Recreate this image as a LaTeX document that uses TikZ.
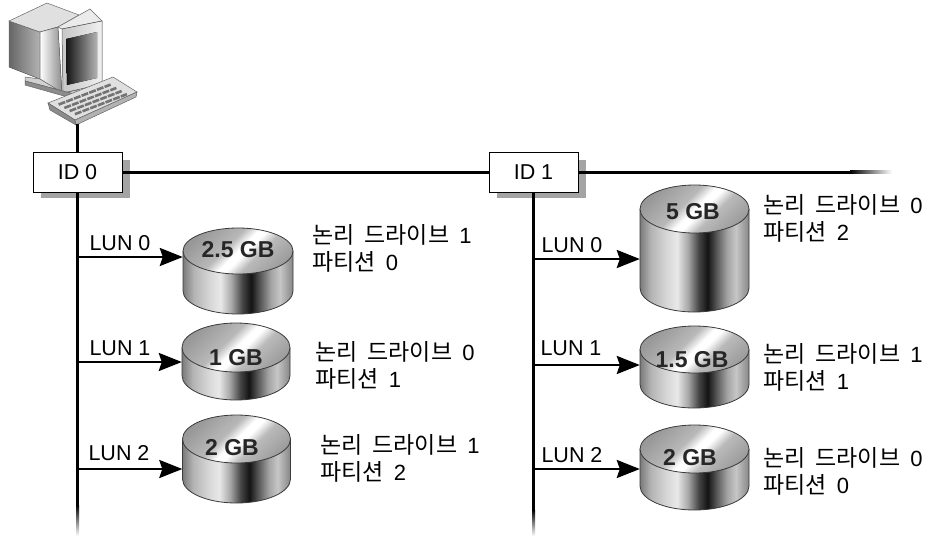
\documentclass[tikz,border=0pt]{standalone}
\usepackage{fontspec}
\setmainfont{Liberation Sans}
\newfontfamily\krfont{Noto Sans CJK KR}
\usetikzlibrary{arrows.meta}

% colours of the disk surfaces
\definecolor{sA}{HTML}{7A7A7A}
\definecolor{sB}{HTML}{B4B4B4}
\definecolor{sC}{HTML}{D6D6D6}
\definecolor{sD}{HTML}{E8E8E8}
\definecolor{sE}{HTML}{A8A8A8}
\definecolor{sF}{HTML}{444444}
\definecolor{sG}{HTML}{141414}
\definecolor{sH}{HTML}{565656}
\definecolor{sI}{HTML}{A4A4A4}
\definecolor{sJ}{HTML}{C6C6C6}
\definecolor{sK}{HTML}{868686}
\definecolor{tA}{HTML}{989898}
\definecolor{tB}{HTML}{B8B8B8}
\definecolor{tC}{HTML}{FFFFFF}
\definecolor{tD}{HTML}{BABABA}
\definecolor{tE}{HTML}{9E9E9E}
\definecolor{diskedge}{HTML}{3A3A3A}
\definecolor{shadowgray}{HTML}{A4A4A4}

\pgfdeclarehorizontalshading{diskside}{100bp}{%
  color(0bp)=(sA); color(25bp)=(sA); color(30bp)=(sB); color(37bp)=(sC);
  color(42bp)=(sD); color(47bp)=(sE); color(52bp)=(sF); color(56bp)=(sG);
  color(60bp)=(sH); color(65bp)=(sI); color(69bp)=(sJ); color(75bp)=(sK);
  color(100bp)=(sK)}
\pgfdeclarehorizontalshading{disktop}{100bp}{%
  color(0bp)=(tA); color(25bp)=(tA); color(43bp)=(tB); color(50bp)=(tC);
  color(54bp)=(tC); color(61bp)=(tD); color(75bp)=(tE); color(100bp)=(tE)}

% #1 name, #2 centre x, #3 centre y of the top face, #4 x radius,
% #5 y radius, #6 height of the side
\newcommand\gbdisk[6]{%
  \path[shading=diskside, draw=diskedge, line width=0.8pt]
    ({#2-#4},#3) -- ({#2-#4},{#3+#6})
    arc[start angle=180, end angle=0, x radius=#4, y radius=#5]
    -- ({#2+#4},#3);
  \path[shading=disktop, shading angle=-45, draw=diskedge, line width=0.8pt]
    (#2,#3) ellipse[x radius=#4, y radius=#5];
  \node[inner sep=0, minimum width={2*#4}, minimum height={#6+2*#5}]
    (#1) at (#2,{#3+#6/2}) {};
}

\begin{document}
\begin{tikzpicture}[x=1pt, y=-1pt,
  bus/.style={line width=3pt, black},
  lunarrow/.style={line width=2.4pt, -{Stealth[length=23pt, width=18pt, inset=3pt]}},
  idbox/.style={draw, line width=1pt, fill=white, minimum width=89pt,
    minimum height=40pt, inner sep=0, font=\fontsize{21.5}{24}\selectfont},
  lun/.style={font=\fontsize{21.5}{24}\selectfont, inner sep=0},
  gb/.style={font=\bfseries\fontsize{23}{26}\selectfont, text=black!85, inner sep=0},
  desc/.style={font=\fontsize{22}{27}\selectfont, align=left, anchor=west, inner sep=0},
  pcline/.style={draw=black!60, line width=0.5pt}]
\useasboundingbox (0,0) rectangle (949,536);

% ---------- workstation ----------
\fill[left color=black!60, right color=black!30, pcline] (9,21) -- (40,32) -- (40,79) -- (9,67) -- cycle;
\fill[black!12, pcline] (9,21) -- (47,3) -- (79,15) -- (58,27) -- (40,32) -- cycle;
\fill[left color=white, right color=black!45, pcline] (40,32) -- (58,27) -- (62,93) -- (40,79) -- cycle;
\fill[black!8, pcline] (58,27) -- (90,9) -- (102,21) -- (62,29) -- cycle;
\fill[left color=black!22, right color=black!6, pcline] (62,29) -- (102,21) -- (102,84) -- (63,93) -- cycle;
\fill[left color=black!92, right color=black!30] (66,39) -- (97,32) -- (97,78) -- (67,85) -- cycle;
\fill[black!18, pcline] (25,77) -- (40,79) -- (63,93) -- (78,90) -- (78,95) -- (25,81) -- cycle;
\fill[black!45, pcline] (25,81) -- (78,95) -- (78,100) -- (25,85) -- cycle;
% keyboard
\fill[black!12, pcline] (48,103) -- (113,77) -- (137,92) -- (75,120) -- cycle;
\fill[black!45, pcline] (48,103) -- (75,120) -- (76,125) -- (50,110) -- cycle;
\fill[black!30, pcline] (75,120) -- (137,92) -- (136,97) -- (76,125) -- cycle;
\foreach \t in {0.12,0.38,0.62,0.86}
  \draw[black!55, line width=2.6pt, dash pattern=on 7pt off 1.2pt]
    ({56+22*\t},{103+13*\t}) -- ({56+22*\t+52},{103+13*\t-20});
\coordinate (kb) at (77.5,124);

% ---------- SCSI chains ----------
\node[idbox] (id0) at (77.5,172) {ID 0};
\node[idbox] (id1) at (533.5,172) {ID 1};
% box shadows, right and lower sides
\fill[shadowgray] (122.5,160) rectangle (130,198);
\fill[shadowgray] (41,192.5) rectangle (130,198);
\fill[shadowgray] (578.5,160) rectangle (586,198);
\fill[shadowgray] (497,192.5) rectangle (586,198);
\draw[line width=2.5pt] (kb) -- (id0.north);
\draw[bus] (id0.east) -- (id1.west);
\coordinate (busfade) at (850,172);
\draw[bus] (id1.east) -- (busfade);
\fill[left color=black, right color=white] (850,170.5) rectangle (892,173.5);

\coordinate (v0fade) at (77.5,505);
\coordinate (v1fade) at (533.5,510);
\draw[bus] (id0.south) -- (v0fade);
\draw[bus] (id1.south) -- (v1fade);
\fill[top color=black, bottom color=white] (76,505) rectangle (79,536);
\fill[top color=black, bottom color=white] (532,510) rectangle (535,536);

% ---------- disks ----------
\gbdisk{dA}{238}{251}{55}{23}{40}
\gbdisk{dB}{236}{347.5}{54}{24.5}{28}
\gbdisk{dC}{236.5}{439}{54}{24}{40}
\gbdisk{dD}{694.5}{209}{54.5}{24}{79}
\gbdisk{dE}{694.5}{349.5}{54.5}{23.5}{35}
\gbdisk{dF}{694.5}{449}{54.5}{24}{37}

\node[gb] (tA) at (238,250) {2.5 GB};
\node[gb] (tB) at (236,358) {1 GB};
\node[gb] (tC) at (232,448) {2 GB};
\node[gb] (tD) at (693,212) {5 GB};
\node[gb] (tE) at (692,360) {1.5 GB};
\node[gb] (tF) at (690,458) {2 GB};

% ---------- LUN arrows ----------
\coordinate (a0) at (77.5,257);
\coordinate (a1) at (77.5,362);
\coordinate (a2) at (77.5,469);
\coordinate (b0) at (533.5,259);
\coordinate (b1) at (533.5,365);
\coordinate (b2) at (533.5,469);
\draw[lunarrow] (a0) -- (dA.west |- a0);
\draw[lunarrow] (a1) -- (dB.west |- a1);
\draw[lunarrow] (a2) -- (dC.west |- a2);
\draw[lunarrow] (b0) -- (dD.west |- b0);
\draw[lunarrow] (b1) -- (dE.west |- b1);
\draw[lunarrow] (b2) -- (dF.west |- b2);

\node[lun] (la0) at (120,243) {LUN 0};
\node[lun] (la1) at (120,348) {LUN 1};
\node[lun] (la2) at (119,453) {LUN 2};
\node[lun] (lb0) at (572,245) {LUN 0};
\node[lun] (lb1) at (571,348) {LUN 1};
\node[lun] (lb2) at (572,455) {LUN 2};

% ---------- descriptions ----------
\newcommand\ldrive[1]{{\krfont\fontsize{23}{27}\selectfont 논리\hspace{5pt} 드라이브}\hspace{4pt} #1}
\newcommand\lpart[1]{{\krfont\fontsize{23}{27}\selectfont 파티션}\hspace{4pt} #1}
\node[desc] (pA) at (312,248.5) {\ldrive{1}\\\lpart{0}};
\node[desc] (pB) at (315,365) {\ldrive{0}\\\lpart{1}};
\node[desc] (pC) at (320,458.5) {\ldrive{1}\\\lpart{2}};
\node[desc] (pD) at (763,218.5) {\ldrive{0}\\\lpart{2}};
\node[desc] (pE) at (763,367.5) {\ldrive{1}\\\lpart{1}};
\node[desc] (pF) at (763,471.5) {\ldrive{0}\\\lpart{0}};
\end{tikzpicture}
\end{document}
